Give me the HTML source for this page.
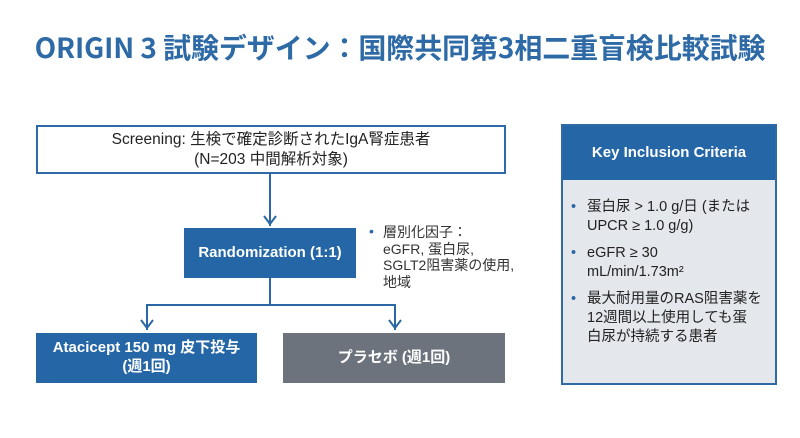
<!DOCTYPE html>
<html><head><meta charset="utf-8"><style>
*{margin:0;padding:0;box-sizing:border-box}
body{width:800px;height:438px;background:#fff;position:relative;overflow:hidden;font-family:"Liberation Sans","Noto Sans CJK JP",sans-serif;}
.a{position:absolute}
.title{left:0;width:800px;top:27px;text-align:center;font-size:28px;font-weight:bold;color:#2d6aa6;letter-spacing:-0.1px;white-space:nowrap;font-family:"Noto Sans CJK JP",sans-serif}
.box{display:flex;align-items:center;justify-content:center;text-align:center;line-height:1.25}
.blue{background:#2466a6;color:#fff;font-weight:bold}
.gray{background:#6c737c;color:#fff;font-weight:bold}
.line{background:#2a67a4}
</style></head><body>
<div class="a title">ORIGIN 3 試験デザイン：国際共同第3相二重盲検比較試験</div>

<div class="a box" style="left:36px;top:125px;width:470px;height:49px;border:2px solid #2f6aa6;font-size:15.5px;color:#222;">Screening: 生検で確定診断されたIgA腎症患者<br>(N=203 中間解析対象)</div>

<div class="a line" style="left:269px;top:174px;width:2px;height:52px"></div>
<svg class="a" style="left:262px;top:214px" width="16" height="14"><polyline points="2,2 8,10 14,2" fill="none" stroke="#2a67a4" stroke-width="2"/></svg>

<div class="a box blue" style="left:184px;top:228px;width:172px;height:50px;font-size:15px">Randomization (1:1)</div>

<div class="a" style="left:369px;top:224px;font-size:14px;color:#333;line-height:16.5px">
<span style="color:#2a67a4;position:absolute;left:0;top:-1px">•</span>
<div style="padding-left:14px">層別化因子：<br>eGFR, 蛋白尿,<br>SGLT2阻害薬の使用,<br>地域</div></div>

<div class="a line" style="left:269px;top:278px;width:2px;height:28px"></div>
<div class="a line" style="left:146px;top:304px;width:250px;height:2px"></div>
<div class="a line" style="left:146px;top:304px;width:2px;height:26px"></div>
<div class="a line" style="left:394px;top:304px;width:2px;height:26px"></div>
<svg class="a" style="left:139px;top:318px" width="16" height="14"><polyline points="2,2 8,10 14,2" fill="none" stroke="#2a67a4" stroke-width="2"/></svg>
<svg class="a" style="left:387px;top:318px" width="16" height="14"><polyline points="2,2 8,10 14,2" fill="none" stroke="#2a67a4" stroke-width="2"/></svg>

<div class="a box blue" style="left:36px;top:333px;width:221px;height:50px;font-size:15px">Atacicept 150 mg 皮下投与<br>(週1回)</div>
<div class="a box gray" style="left:283px;top:333px;width:222px;height:50px;font-size:15px">プラセボ (週1回)</div>

<div class="a" style="left:561px;top:124px;width:216px;height:261px;background:#e4e7ec;border:2px solid #2f6aa6">
<div class="box blue" style="height:54px;font-size:15px">Key Inclusion Criteria</div>
<div style="padding:18px 0 0 8px;font-size:14.5px;color:#222;line-height:19px">
<div style="position:relative;padding-left:16px;margin-bottom:8px"><span style="position:absolute;left:0;color:#2a67a4">•</span>蛋白尿 &gt; 1.0 g/日 (または<br>UPCR ≥ 1.0 g/g)</div>
<div style="position:relative;padding-left:16px;margin-bottom:8px"><span style="position:absolute;left:0;color:#2a67a4">•</span>eGFR ≥ 30<br>mL/min/1.73m²</div>
<div style="position:relative;padding-left:16px"><span style="position:absolute;left:0;color:#2a67a4">•</span>最大耐用量のRAS阻害薬を<br>12週間以上使用しても蛋<br>白尿が持続する患者</div>
</div></div>
</body></html>
